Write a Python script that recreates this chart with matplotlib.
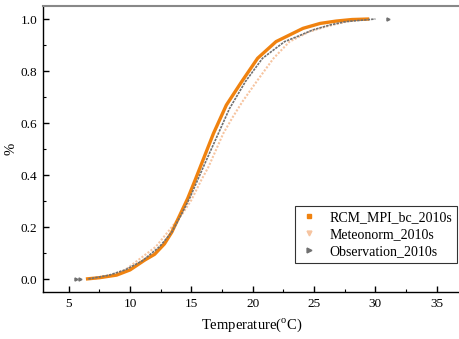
import matplotlib
matplotlib.use("Agg")
import matplotlib.pyplot as plt
from matplotlib.lines import Line2D
from matplotlib.ticker import MultipleLocator

plt.rcParams['font.family'] = ['Liberation Serif', 'DejaVu Serif']
plt.rcParams['mathtext.fontset'] = 'custom'
plt.rcParams['mathtext.rm'] = 'Liberation Serif'

# Data (temperature in degC, cumulative fraction)
rcm_t = [6.4, 7.5, 8.9, 10.0, 11.2, 12.0, 12.8, 13.4, 14.1, 14.7, 15.3, 15.8, 16.8, 17.85,
         19.1, 20.4, 21.9, 24.1, 25.5, 26.8, 28.1, 29.5]
rcm_p = [0.0, 0.005, 0.015, 0.035, 0.073, 0.095, 0.135, 0.18, 0.25, 0.31, 0.38, 0.44, 0.56, 0.669,
         0.759, 0.849, 0.913, 0.964, 0.983, 0.992, 0.998, 1.0]

met_t = [6.8, 8.0, 9.6, 12.1, 13.2, 14.3, 15.0, 15.8, 16.4, 17.6, 18.4, 19.2, 20.4, 21.7,
         23.0, 24.6, 25.9, 27.3, 28.4, 29.2]
met_p = [0.0, 0.008, 0.035, 0.124, 0.188, 0.253, 0.304, 0.38, 0.432, 0.56, 0.625, 0.685, 0.765,
         0.849, 0.913, 0.951, 0.97, 0.986, 0.997, 1.0]

obs_t = [6.6, 8.3, 9.6, 11.0, 12.4, 13.4, 14.2, 14.9, 15.5, 16.2, 17.2, 18.1, 19.4, 20.8, 22.6,
         23.6, 24.9, 26.3, 27.6, 30.0]
obs_p = [0.0, 0.015, 0.035, 0.07, 0.124, 0.18, 0.25, 0.315, 0.38, 0.455, 0.56, 0.655, 0.759, 0.849,
         0.913, 0.932, 0.958, 0.977, 0.99, 1.0]
obs_iso_t = [5.6, 5.9, 31.0]
obs_iso_p = [0.0, 0.0, 1.0]

labels = ['RCM_MPI_bc_2010s', 'Meteonorm_2010s', 'Observation_2010s']
c_rcm, c_met, c_obs = '#F0820F', '#F6C4A0', '#707070'

fig = plt.figure(figsize=(4.6, 3.39), dpi=100)
ax = fig.add_axes([43/460, 1-292/339, 1-43/460, (292-6)/339])

ax.plot(met_t, met_p, color=c_met, lw=1.5, ls=(0, (1, 0.8)), zorder=2)
ax.plot(rcm_t, rcm_p, color=c_rcm, lw=2.4, zorder=3, solid_capstyle='butt')
ax.plot(obs_t, obs_p, color=c_obs, lw=1.2, ls=(0, (1.5, 0.6)), zorder=4)
ax.plot(obs_iso_t, obs_iso_p, color=c_obs, lw=0, marker='>', ms=2.2, zorder=4)

ax.set_xlim(2.9, 36.9)
ax.set_ylim(-0.05, 1.05)
ax.set_xticks([5, 10, 15, 20, 25, 30, 35])
ax.xaxis.set_minor_locator(MultipleLocator(2.5))
ax.set_yticks([0.0, 0.2, 0.4, 0.6, 0.8, 1.0])
ax.set_yticklabels(['0.0', '0.2', '0.4', '0.6', '0.8', '1.0'])
ax.yaxis.set_minor_locator(MultipleLocator(0.1))
ax.tick_params(which='major', direction='in', length=4, width=1, labelsize=9.5, pad=4)
ax.tick_params(which='minor', direction='in', length=2, width=0.8)

ax.spines['right'].set_visible(False)
ax.spines['top'].set_color('#888888')
ax.spines['top'].set_linewidth(1.5)
ax.spines['left'].set_linewidth(1.0)
ax.spines['bottom'].set_linewidth(1.0)

ax.set_xlabel(r'Temperature($^{\mathrm{o}}$C)', fontsize=10.5, labelpad=5)
ax.set_ylabel('%', fontsize=10.5, labelpad=2)

handles = [Line2D([], [], color=c_rcm, marker='s', ms=3.5, ls='none'),
           Line2D([], [], color=c_met, marker='v', ms=3.5, ls='none'),
           Line2D([], [], color=c_obs, marker='>', ms=3.5, ls='none')]
leg = ax.legend(handles, labels, loc='lower right',
                bbox_to_anchor=(414/417, (292-263)/286), fontsize=10, frameon=True,
                fancybox=False, edgecolor='black', handlelength=1.2, handletextpad=0.9,
                borderpad=0.35, labelspacing=0.3, borderaxespad=0)
leg.get_frame().set_linewidth(0.8)

fig.savefig('out.png', dpi=100)
